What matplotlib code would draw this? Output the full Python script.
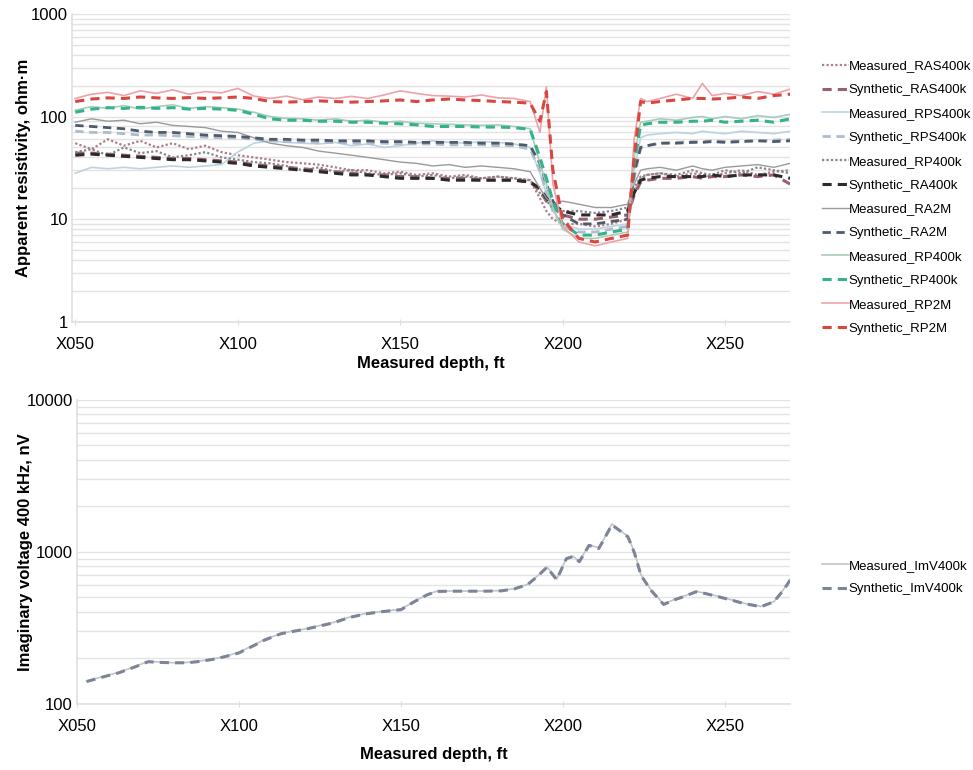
import matplotlib
matplotlib.use("Agg")
import matplotlib.pyplot as plt
from matplotlib.ticker import FixedLocator, LogLocator, NullFormatter

plt.rcParams['font.family'] = ['Liberation Sans', 'DejaVu Sans']

# depth grid for the resistivity logs (ft below X000)
depth = [50, 55, 60, 65, 70, 75, 80, 85, 90, 95, 100, 105, 110, 115, 120, 125, 130, 135,
         140, 145, 150, 155, 160, 165, 170, 175, 180, 185,
         190, 193, 195, 197, 200, 205, 210, 215, 220, 222, 224, 226,
         230, 235, 240, 243, 246, 250, 255, 260, 265, 270]

meas_ras400k = [55, 48, 60, 52, 58, 50, 55, 48, 52, 45, 42, 40, 38, 36, 35, 34, 32, 30, 30, 28, 29, 27, 28, 26, 27, 25, 26, 25,
                24, 16, 12, 10, 9, 9, 8.5, 9, 10, 18, 25, 27,
                28, 26, 28, 27, 26, 28, 30, 27, 29, 30]
syn_ras400k = [44, 44, 43, 42, 41, 40, 39, 39, 38, 37, 36, 34, 33, 32, 31, 30, 29, 28, 27, 27, 26, 26, 25, 25, 25, 24, 24, 24,
               23, 19, 15, 13, 11, 10, 10, 10.5, 11, 17, 23, 24,
               25, 25, 26, 25, 26, 26, 27, 26, 27, 22]
meas_rps400k = [28, 32, 31, 32, 31, 32, 33, 32, 33, 34, 45, 55, 58, 56, 55, 54, 56, 52, 54, 50, 52, 55, 58, 56, 55, 57, 56, 54,
                50, 28, 18, 12, 9, 8, 8, 8.5, 9, 30, 62, 66,
                68, 70, 68, 72, 70, 68, 72, 70, 68, 72]
syn_rps400k = [72, 70, 70, 68, 66, 66, 65, 64, 63, 62, 62, 60, 58, 57, 57, 56, 56, 55, 55, 55, 54, 54, 54, 53, 53, 53, 52, 52,
               48, 30, 18, 12, 8.5, 7.5, 7.5, 8, 8.5, 25, 50, 52,
               55, 56, 57, 57, 58, 57, 58, 58, 59, 60]
meas_ra400k = [45, 48, 42, 50, 44, 46, 40, 42, 45, 40, 38, 36, 35, 33, 30, 32, 29, 30, 28, 27, 28, 26, 27, 25, 26, 25, 26, 25,
               24, 18, 15, 13, 12, 12, 11.5, 12, 13, 20, 26, 27,
               28, 27, 30, 28, 27, 30, 28, 32, 30, 28]
syn_ra400k = [42, 43, 42, 41, 40, 39, 38, 38, 37, 36, 35, 33, 32, 31, 30, 29, 28, 27, 27, 26, 25, 25, 25, 24, 24, 24, 24, 24,
              23, 20, 16, 14, 12, 11, 11, 11, 12, 18, 24, 25,
              26, 26, 26, 26, 27, 26, 27, 27, 27, 25]
meas_ra2m = [88, 95, 90, 92, 85, 88, 82, 80, 78, 72, 70, 62, 55, 52, 50, 46, 44, 42, 40, 38, 36, 35, 33, 34, 32, 33, 32, 31,
             29, 20, 16, 14, 15, 14, 13, 13, 14, 22, 30, 31,
             32, 30, 33, 31, 30, 32, 33, 34, 32, 35]
syn_ra2m = [82, 80, 78, 76, 72, 70, 70, 68, 66, 65, 64, 62, 60, 60, 59, 59, 58, 58, 58, 57, 57, 56, 56, 56, 56, 55, 55, 54,
            52, 35, 22, 15, 11, 9, 9, 9.5, 10, 28, 50, 52,
            55, 55, 56, 56, 57, 56, 57, 58, 57, 58]
meas_rp400k = [115, 125, 120, 128, 118, 125, 130, 120, 125, 122, 118, 110, 100, 96, 95, 92, 95, 90, 92, 88, 90, 86, 85, 84, 83, 82, 83, 80,
               76, 35, 22, 13, 8, 6.5, 6.5, 7, 7.5, 40, 88, 90,
               95, 92, 98, 100, 95, 100, 95, 102, 98, 105]
syn_rp400k = [110, 118, 122, 120, 123, 120, 122, 118, 120, 118, 115, 105, 95, 92, 92, 90, 90, 88, 88, 86, 85, 83, 80, 80, 80, 79, 79, 78,
              75, 40, 25, 15, 9, 7, 7, 7.5, 8, 35, 82, 85,
              88, 88, 90, 90, 92, 88, 90, 92, 88, 95]
meas_rp2m = [150, 165, 172, 160, 178, 168, 182, 165, 175, 170, 188, 158, 150, 158, 146, 155, 150, 157, 150, 162, 178, 168, 160, 158, 155, 162, 152, 150,
             140, 70, 195, 22, 8.5, 6, 5.5, 6, 6.5, 60, 150, 140,
             150, 165, 150, 210, 160, 168, 160, 175, 165, 185]
syn_rp2m = [140, 148, 152, 150, 155, 152, 150, 153, 150, 152, 155, 150, 140, 138, 140, 142, 140, 138, 140, 142, 145, 140, 145, 148, 145, 143, 140, 138,
            135, 90, 175, 30, 10, 6.5, 6, 6.5, 7, 40, 140, 135,
            140, 145, 150, 150, 148, 150, 155, 150, 160, 165]

# imaginary voltage 400 kHz
depth_imv = [53, 58, 63, 68, 72, 76, 80, 84, 88, 92, 96, 100, 104, 108, 113, 117, 121, 125, 129, 134,
             139, 144, 150, 154, 158, 161, 166, 171, 176, 181, 185, 189, 192, 195, 198, 201, 203, 205,
             208, 211, 213, 215, 217, 220, 222, 224, 227, 231, 234, 237, 241, 244, 248, 252, 256, 261,
             265, 268, 270]
syn_imv = [140, 150, 160, 175, 189, 187, 186, 186, 190, 196, 205, 216, 238, 263, 289, 300, 311, 325, 340, 369,
           390, 403, 416, 468, 520, 548, 550, 550, 550, 553, 570, 607, 686, 790, 655, 900, 930, 860,
           1100, 1050, 1250, 1500, 1400, 1250, 980, 700, 560, 450, 480, 505, 545, 530, 505, 480, 455, 435,
           468, 560, 650]
meas_imv = [141, 151, 161, 176, 190, 188, 186, 187, 191, 197, 206, 218, 240, 265, 290, 302, 312, 327, 342, 371,
            392, 405, 418, 470, 522, 550, 552, 551, 552, 555, 572, 610, 690, 795, 660, 905, 935, 865,
            1110, 1060, 1260, 1520, 1410, 1260, 990, 705, 565, 452, 482, 508, 548, 532, 508, 482, 457, 437,
            470, 565, 660]

tick_pos = [50, 100, 150, 200, 250]
tick_lab = ["X050", "X100", "X150", "X200", "X250"]

top_series = [
    ("Measured_RAS400k", meas_ras400k, "#b07c86", (0, (1, 1)), 1.6),
    ("Synthetic_RAS400k", syn_ras400k, "#9b5f6c", (0, (3, 2)), 2.2),
    ("Measured_RPS400k", meas_rps400k, "#bcd3e4", "-", 1.2),
    ("Synthetic_RPS400k", syn_rps400k, "#aebdcc", (0, (3, 2)), 2.0),
    ("Measured_RP400k", meas_ra400k, "#85858f", (0, (1, 1)), 1.6),
    ("Synthetic_RA400k", syn_ra400k, "#2b2b2b", (0, (3, 2)), 2.2),
    ("Measured_RA2M", meas_ra2m, "#9a9a9a", "-", 1.0),
    ("Synthetic_RA2M", syn_ra2m, "#4f5a6a", (0, (3, 2)), 2.0),
    ("Measured_RP400k", meas_rp400k, "#a8cdb6", "-", 1.2),
    ("Synthetic_RP400k", syn_rp400k, "#34b28c", (0, (3, 2)), 2.2),
    ("Measured_RP2M", meas_rp2m, "#eda2aa", "-", 1.2),
    ("Synthetic_RP2M", syn_rp2m, "#d8463f", (0, (3, 2)), 2.2),
]

fig = plt.figure(figsize=(9.73, 7.70), dpi=100)
ax1 = fig.add_axes([0.074, 0.582, 0.738, 0.400])
ax2 = fig.add_axes([0.079, 0.086, 0.733, 0.395])


def style_axis(ax, ylim, xlim):
    ax.set_yscale("log")
    ax.set_ylim(*ylim)
    ax.set_xlim(*xlim)
    ax.yaxis.set_major_locator(LogLocator(base=10))
    ax.yaxis.set_minor_locator(LogLocator(base=10, subs=range(2, 10)))
    ax.yaxis.set_minor_formatter(NullFormatter())
    ax.yaxis.set_major_formatter(plt.FuncFormatter(lambda v, p: f"{v:g}"))
    ax.grid(True, axis="y", which="both", color="#e3e3e3", lw=1.0)
    ax.set_axisbelow(True)
    ax.xaxis.set_major_locator(FixedLocator(tick_pos))
    ax.set_xticklabels(tick_lab)
    ax.tick_params(axis="y", which="both", length=0, labelsize=12, pad=3)
    ax.tick_params(axis="x", length=4, direction="inout", color="#dddddd", labelsize=12, pad=9)
    for side in ["top", "right"]:
        ax.spines[side].set_visible(False)
    for side in ["left", "bottom"]:
        ax.spines[side].set_color("#e0e0e0")
        ax.spines[side].set_linewidth(1.2)


for name, vals, col, ls, lw in top_series:
    ax1.plot(depth, vals, color=col, linestyle=ls, lw=lw, label=name)
style_axis(ax1, (1, 1000), (49, 270))
ax1.set_ylabel("Apparent resistivity, ohm·m", fontsize=12, fontweight="bold", labelpad=0)
ax1.set_xlabel("Measured depth, ft", fontsize=12, fontweight="bold", labelpad=3)

ax2.plot(depth_imv, meas_imv, color="#c2c2c8", lw=1.2, label="Measured_ImV400k")
ax2.plot(depth_imv, syn_imv, color="#7c8498", lw=2.2, linestyle=(0, (3, 2)), label="Synthetic_ImV400k")
style_axis(ax2, (100, 10000), (50, 270))
ax2.set_ylabel("Imaginary voltage 400 kHz, nV", fontsize=12, fontweight="bold", labelpad=-5)
ax2.set_xlabel("Measured depth, ft", fontsize=12, fontweight="bold", labelpad=9)

h1, l1 = ax1.get_legend_handles_labels()
fig.legend(h1, l1, loc="upper left", bbox_to_anchor=(0.845, 0.922), frameon=False,
           fontsize=9.5, handlelength=2.0, handletextpad=0.0, labelspacing=0.88,
           borderpad=0, borderaxespad=0)
h2, l2 = ax2.get_legend_handles_labels()
fig.legend(h2, l2, loc="upper left", bbox_to_anchor=(0.845, 0.273), frameon=False,
           fontsize=9.5, handlelength=2.0, handletextpad=0.0, labelspacing=0.85,
           borderpad=0, borderaxespad=0)

fig.savefig("out.png", dpi=100, facecolor="white")
